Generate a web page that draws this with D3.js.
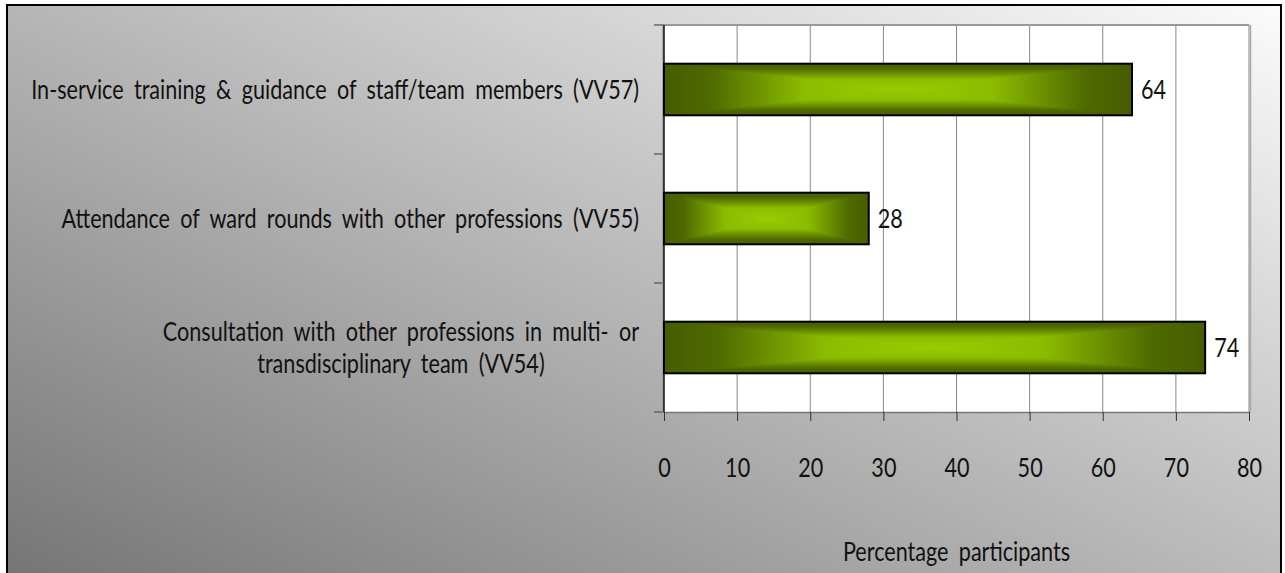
<!DOCTYPE html>
<meta charset="utf-8">
<style>
    body { margin: 0; background: #fff; }
    text {
        font-family: Lato, "DejaVu Sans", sans-serif;
        font-size: 27px;
        fill: #111;
        word-spacing: 6px;
    }
</style>
<svg width="1285" height="573"></svg>
<script src="https://d3js.org/d3.v7.min.js"></script>
<script>
    var categories = [
        "In-service training & guidance of staff/team members (VV57)",
        "Attendance of ward rounds with other professions (VV55)",
        "Consultation with other professions in multi- or\ntransdisciplinary team (VV54)"
    ];
    var values = [64, 28, 74];
    var xTicks = [0, 10, 20, 30, 40, 50, 60, 70, 80];
    var axisTitle = "Percentage participants";

    var svg = d3.select("svg"),
        mLeft = 664, mRight = 1249, mTop = 25, mBottom = 412,
        sx = 0.8; // squeeze text horizontally, the original font is a condensed one

    var defs = svg.append("defs");

    // frame background, dark bottom-left to light top-right
    var bg = defs.append("linearGradient").attr("id", "bg")
        .attr("x1", 0).attr("y1", 1).attr("x2", 1).attr("y2", 0);
    bg.append("stop").attr("offset", 0).attr("stop-color", "#707070");
    bg.append("stop").attr("offset", 1).attr("stop-color", "#fbfbfb");

    svg.append("rect")
        .attr("x", 7).attr("y", 5).attr("width", 1274).attr("height", 620)
        .attr("fill", "url(#bg)")
        .attr("stroke", "#000").attr("stroke-width", 2);

    // bar gradients, one per direction (dark edge -> bright centre)
    var stops = [[0, "#475c00"], [0.2, "#4f6a00"], [0.6, "#8cbc00"], [1, "#99cc00"]];
    var dirs = {
        gl: [0, 0, 1, 0], gr: [1, 0, 0, 0], gt: [0, 0, 0, 1], gb: [0, 1, 0, 0]
    };
    Object.keys(dirs).forEach(function(k) {
        var d = dirs[k];
        var lg = defs.append("linearGradient").attr("id", k)
            .attr("x1", d[0]).attr("y1", d[1]).attr("x2", d[2]).attr("y2", d[3]);
        stops.forEach(function(s) {
            lg.append("stop").attr("offset", s[0]).attr("stop-color", s[1]);
        });
    });
    // full-width mirrored version, laid under the triangles to hide seams
    var gh = defs.append("linearGradient").attr("id", "gh");
    stops.forEach(function(s) {
        gh.append("stop").attr("offset", s[0] / 2).attr("stop-color", s[1]);
    });
    stops.slice().reverse().forEach(function(s) {
        gh.append("stop").attr("offset", 1 - s[0] / 2).attr("stop-color", s[1]);
    });

    var x = d3.scaleLinear().domain([0, 80]).range([mLeft, mRight]);
    var y = d3.scaleBand().domain(categories).range([mTop, mBottom])
        .paddingInner(0.6).paddingOuter(0.3);

    // plot area
    svg.append("rect")
        .attr("x", mLeft).attr("y", mTop)
        .attr("width", mRight - mLeft).attr("height", mBottom - mTop)
        .attr("fill", "#fff");

    // vertical gridlines
    svg.append("g").selectAll("line")
        .data(xTicks.slice(1))
        .enter().append("line")
        .attr("x1", function(d) { return x(d); })
        .attr("x2", function(d) { return x(d); })
        .attr("y1", mTop).attr("y2", mBottom)
        .attr("stroke", "#888").attr("stroke-width", 1);

    // top / right border
    svg.append("line")
        .attr("x1", mLeft).attr("x2", mRight).attr("y1", mTop).attr("y2", mTop)
        .attr("stroke", "#999").attr("stroke-width", 2);
    svg.append("line")
        .attr("x1", mRight + 1.5).attr("x2", mRight + 1.5).attr("y1", mTop).attr("y2", mBottom)
        .attr("stroke", "#aaa").attr("stroke-width", 1.5);

    // x axis
    var xAxis = svg.append("g")
        .attr("transform", "translate(0," + mBottom + ")")
        .call(d3.axisBottom(x).tickValues(xTicks).tickSize(9).tickSizeOuter(0));
    xAxis.select(".domain").attr("stroke", "#777").attr("stroke-width", 1.5);
    xAxis.selectAll(".tick line").attr("stroke", "#333");
    xAxis.selectAll(".tick text")
        .attr("y", 65).attr("dy", 0)
        .attr("transform", "scale(" + sx + ",1)")
        .style("font-size", "27px")
        .style("font-family", "Lato, \"DejaVu Sans\", sans-serif")
        .attr("fill", "#111");

    // y axis (category ticks at band edges)
    var edges = categories.map(function(c) { return y(c) - y.step() * y.paddingOuter(); });
    edges.push(mBottom);
    svg.append("g").selectAll("line")
        .data(edges)
        .enter().append("line")
        .attr("x1", mLeft - 10).attr("x2", mLeft)
        .attr("y1", function(d) { return d; }).attr("y2", function(d) { return d; })
        .attr("stroke", "#666").attr("stroke-width", 1.5);
    svg.append("line")
        .attr("x1", mLeft - 1).attr("x2", mLeft - 1).attr("y1", mTop).attr("y2", mBottom)
        .attr("stroke", "#999").attr("stroke-width", 1.5);
    svg.append("line")
        .attr("x1", mLeft).attr("x2", mLeft).attr("y1", mTop).attr("y2", mBottom)
        .attr("stroke", "#111").attr("stroke-width", 1.5);

    // bars: rectangle-path gradient built from four triangles
    var bar = svg.append("g").selectAll(".bar")
        .data(values)
        .enter().append("g")
        .attr("class", "bar");

    bar.each(function(v, i) {
        var g = d3.select(this),
            x0 = x(0), x1 = x(v),
            y0 = y(categories[i]), h = y.bandwidth(), y1 = y0 + h,
            cx = (x0 + x1) / 2, cy = y0 + h / 2;
        g.append("rect")
            .attr("x", x0).attr("y", y0).attr("width", x1 - x0).attr("height", h)
            .attr("fill", "url(#gh)");
        var tris = [
            ["gt", [[x0, y0], [x1, y0], [cx, cy]]],
            ["gb", [[x0, y1], [x1, y1], [cx, cy]]],
            ["gl", [[x0, y0], [cx, cy], [x0, y1]]],
            ["gr", [[x1, y0], [cx, cy], [x1, y1]]]
        ];
        tris.forEach(function(t) {
            g.append("polygon")
                .attr("points", t[1].map(function(p) { return p.join(","); }).join(" "))
                .attr("fill", "url(#" + t[0] + ")");
        });
        g.append("rect")
            .attr("x", x0).attr("y", y0).attr("width", x1 - x0).attr("height", h)
            .attr("fill", "none").attr("stroke", "#000").attr("stroke-width", 2);
        g.append("text")
            .attr("transform", "translate(" + (x1 + 9) + "," + cy + ") scale(" + sx + ",1)")
            .attr("dy", "0.35em")
            .text(v);
    });

    // category labels, right aligned; wrapped lines centred on each other
    var lineGap = 32;
    var cat = svg.append("g").selectAll("text")
        .data(categories)
        .enter().append("text")
        .attr("text-anchor", "end")
        .attr("transform", function(c) {
            return "translate(" + (mLeft - 25) + "," + (y(c) + y.bandwidth() / 2) + ") scale(" + sx + ",1)";
        });
    cat.each(function(c) {
        var t = d3.select(this),
            lines = c.split("\n");
        var spans = lines.map(function(l, j) {
            return t.append("tspan")
                .attr("x", 0)
                .attr("y", (j - (lines.length - 1) / 2) * lineGap)
                .attr("dy", "0.35em")
                .text(l);
        });
        var widths = spans.map(function(s) { return s.node().getComputedTextLength(); }),
            maxW = d3.max(widths);
        spans.forEach(function(s, j) {
            s.attr("x", -(maxW - widths[j]) / 2);
        });
    });

    // axis title
    svg.append("text")
        .attr("transform", "translate(" + (mLeft + mRight) / 2 + ",561) scale(" + sx + ",1)")
        .attr("text-anchor", "middle")
        .text(axisTitle);
</script>
